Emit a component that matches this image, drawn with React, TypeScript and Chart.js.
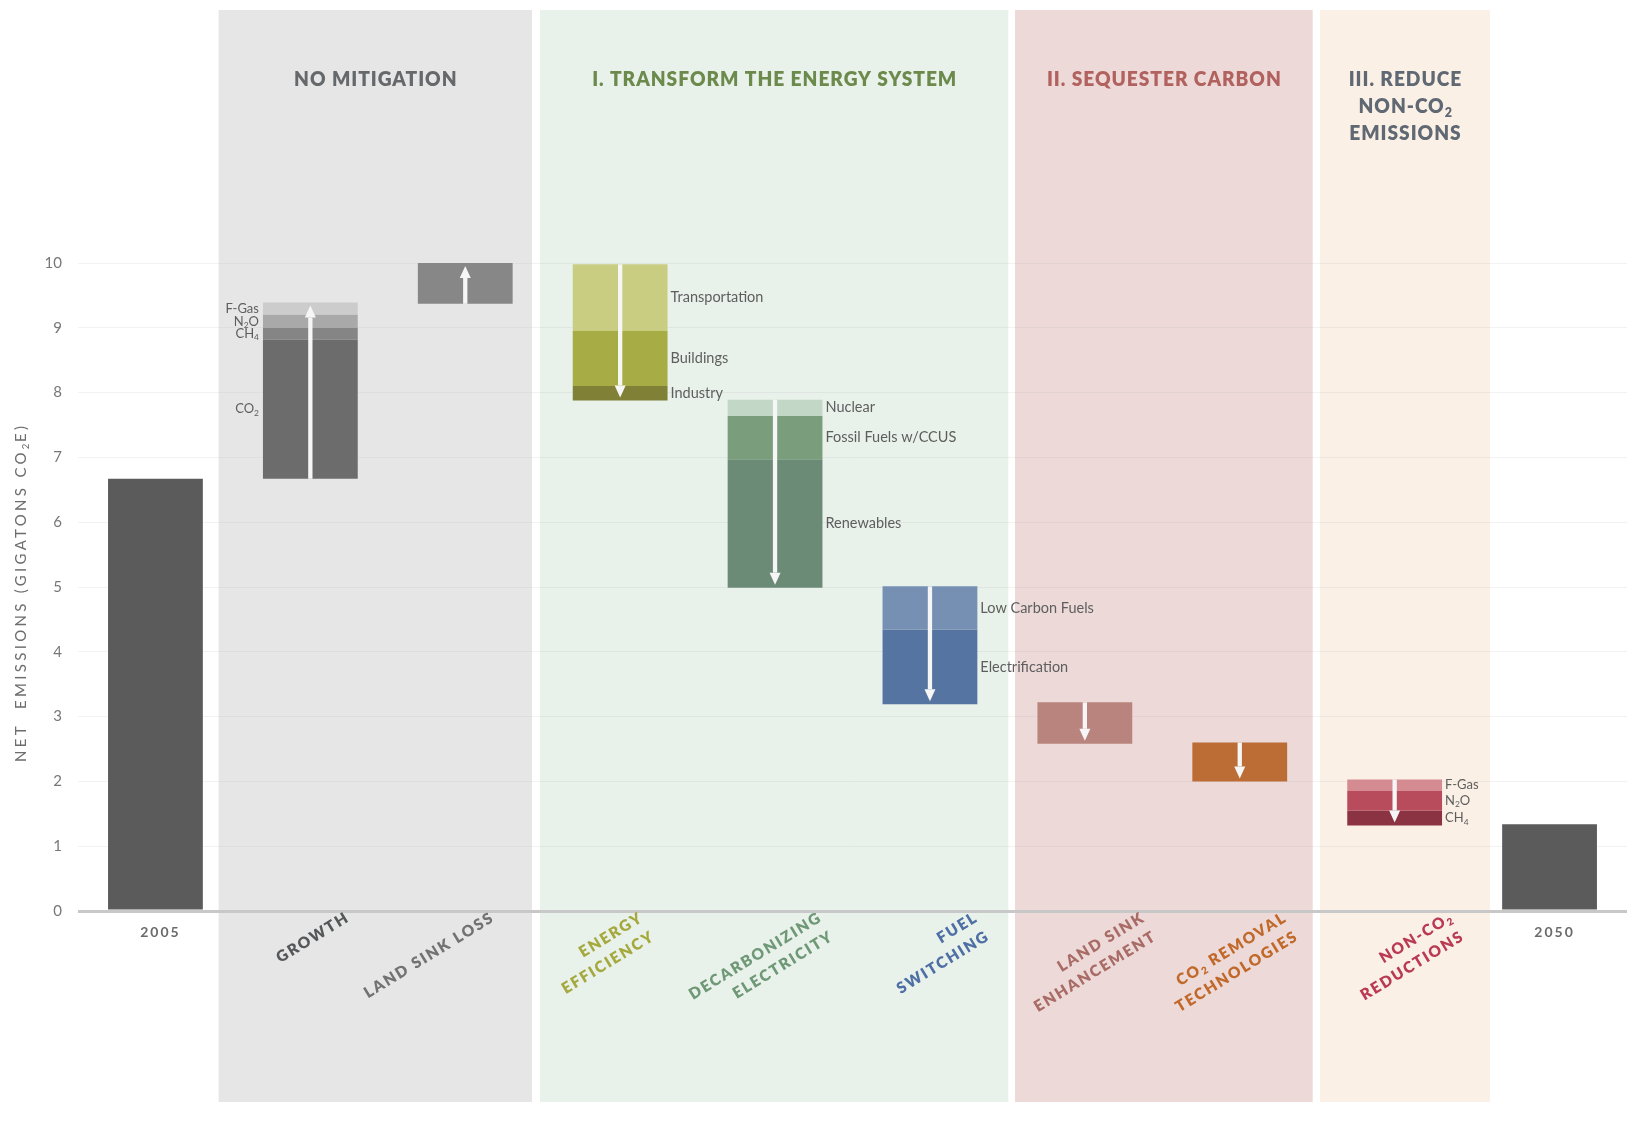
import React, { useEffect, useRef } from 'react';
import { Chart, registerables } from 'chart.js';

Chart.register(...registerables);

// ---------------- DATA ----------------
const categories = [
  '2005', 'GROWTH', 'LAND SINK LOSS', 'ENERGY EFFICIENCY', 'DECARBONIZING ELECTRICITY',
  'FUEL SWITCHING', 'LAND SINK ENHANCEMENT', 'CO2 REMOVAL TECHNOLOGIES', 'NON-CO2 REDUCTIONS', '2050',
];
const yTicks = [0, 1, 2, 3, 4, 5, 6, 7, 8, 9, 10];

const emissions2005 = 6.67;
const emissions2050 = 1.34;

const growthLevels = [6.67, 8.82, 9.0, 9.2, 9.39];
const growthLabels = ['CO_2', 'CH_4', 'N_2O', 'F-Gas'];
const landSinkLossLevels = [9.37, 10.0];
const efficiencyLevels = [9.98, 8.95, 8.1, 7.88];
const efficiencyLabels = ['Transportation', 'Buildings', 'Industry'];
const electricityLevels = [7.89, 7.64, 6.97, 4.99];
const electricityLabels = ['Nuclear', 'Fossil Fuels w/CCUS', 'Renewables'];
const fuelLevels = [5.01, 4.34, 3.19];
const fuelLabels = ['Low Carbon Fuels', 'Electrification'];
const landSinkEnhLevels = [3.22, 2.58];
const removalLevels = [2.6, 2.0];
const nonCo2Levels = [2.03, 1.85, 1.55, 1.32];
const nonCo2Labels = ['F-Gas', 'N_2O', 'CH_4'];

const groupTitles = [['NO MITIGATION'], ['I. TRANSFORM THE ENERGY SYSTEM'], ['II. SEQUESTER CARBON'], ['III. REDUCE', 'NON-CO_2', 'EMISSIONS']];

const xLabelLines = [
  [], ['GROWTH'], ['LAND SINK LOSS'], ['ENERGY', 'EFFICIENCY'], ['DECARBONIZING', 'ELECTRICITY'],
  ['FUEL', 'SWITCHING'], ['LAND SINK', 'ENHANCEMENT'], ['CO_2 REMOVAL', 'TECHNOLOGIES'], ['NON-CO_2', 'REDUCTIONS'], [],
];

// ---------------- STYLE ----------------
const FONT = 'Lato, "Open Sans", sans-serif';
const totalColor = '#5a5b5a';
const growthColors = ['#6b6c6b', '#858585', '#a9a9a9', '#cccccc'];
const landSinkLossColors = ['#878787'];
const efficiencyColors = ['#c8cd82', '#a8ac44', '#808037'];
const electricityColors = ['#c3d7c7', '#7a9e7c', '#6c8b77'];
const fuelColors = ['#7690b4', '#5574a1'];
const landSinkEnhColors = ['#b8847d'];
const removalColors = ['#bc6c35'];
const nonCo2Colors = ['#d58b92', '#b84b5c', '#8b3343'];

const panelColors = ['#e6e6e6', '#e8f1ea', '#ecd9d8', '#fbf0e5'];
const panelTitleColors = ['#65696c', '#6c8a4b', '#b1625e', '#5f6873'];
const panelEdges = [[0.408, 2.431], [2.483, 5.506], [5.549, 7.471], [7.518, 8.615]];
const xLabelColors = ['#6b6b6b', '#555759', '#727272', '#a5a93d', '#6f9877', '#4e6fa5', '#a86b66', '#c0692a', '#b93a52', '#6b6b6b'];
const xLabelAnchorDx = [0, 36, 26, 20, 44, 45, 57, 44, 55, 0];

interface StepGroup { cat: number; levels: number[]; colors: string[]; labels: string[]; side: 'left' | 'right'; labelSize: number; }
const stepGroups: StepGroup[] = [
  { cat: 1, levels: growthLevels, colors: growthColors, labels: growthLabels, side: 'left', labelSize: 13 },
  { cat: 2, levels: landSinkLossLevels, colors: landSinkLossColors, labels: [], side: 'right', labelSize: 14.5 },
  { cat: 3, levels: efficiencyLevels, colors: efficiencyColors, labels: efficiencyLabels, side: 'right', labelSize: 14.5 },
  { cat: 4, levels: electricityLevels, colors: electricityColors, labels: electricityLabels, side: 'right', labelSize: 14.5 },
  { cat: 5, levels: fuelLevels, colors: fuelColors, labels: fuelLabels, side: 'right', labelSize: 14.5 },
  { cat: 6, levels: landSinkEnhLevels, colors: landSinkEnhColors, labels: [], side: 'right', labelSize: 14.5 },
  { cat: 7, levels: removalLevels, colors: removalColors, labels: [], side: 'right', labelSize: 14.5 },
  { cat: 8, levels: nonCo2Levels, colors: nonCo2Colors, labels: nonCo2Labels, side: 'right', labelSize: 13 },
];

// ---------------- RICH TEXT ----------------
type Run = { t: string; sub: boolean };
function parseRich(s: string): Run[] {
  const runs: Run[] = [];
  let buf = '';
  for (let i = 0; i < s.length; i++) {
    if (s[i] === '_' && i + 1 < s.length) {
      if (buf) runs.push({ t: buf, sub: false });
      buf = '';
      runs.push({ t: s[i + 1], sub: true });
      i++;
    } else buf += s[i];
  }
  if (buf) runs.push({ t: buf, sub: false });
  return runs;
}
interface TS { size: number; weight?: string; color: string; spacing?: number }
function setFont(ctx: CanvasRenderingContext2D, st: TS, sub: boolean) {
  ctx.font = `${st.weight || 'normal'} ${sub ? st.size * 0.65 : st.size}px ${FONT}`;
  (ctx as any).letterSpacing = `${sub ? (st.spacing || 0) * 0.5 : st.spacing || 0}px`;
}
function richWidth(ctx: CanvasRenderingContext2D, s: string, st: TS) {
  let w = 0;
  for (const r of parseRich(s)) {
    setFont(ctx, st, r.sub);
    w += ctx.measureText(r.t).width;
  }
  return w - (st.spacing || 0);
}
function drawRich(ctx: CanvasRenderingContext2D, s: string, x: number, y: number, st: TS, align: 'left' | 'right' | 'center') {
  const w = richWidth(ctx, s, st);
  let cx = align === 'left' ? x : align === 'right' ? x - w : x - w / 2;
  ctx.fillStyle = st.color;
  ctx.textAlign = 'left';
  ctx.textBaseline = 'middle';
  for (const r of parseRich(s)) {
    setFont(ctx, st, r.sub);
    ctx.fillText(r.t, cx, r.sub ? y + st.size * 0.3 : y);
    cx += ctx.measureText(r.t).width;
  }
  (ctx as any).letterSpacing = '0px';
}

function drawArrow(ctx: CanvasRenderingContext2D, x: number, yFrom: number, yTo: number) {
  const dir = yTo > yFrom ? 1 : -1;
  const headH = 12, headW = 11, shaft = 4.3;
  const shaftEnd = yTo - dir * headH;
  ctx.fillStyle = '#f6f6f6';
  ctx.fillRect(x - shaft / 2, Math.min(yFrom, shaftEnd), shaft, Math.abs(shaftEnd - yFrom));
  ctx.beginPath();
  ctx.moveTo(x - headW / 2, shaftEnd);
  ctx.lineTo(x + headW / 2, shaftEnd);
  ctx.lineTo(x, yTo);
  ctx.closePath();
  ctx.fill();
}

const headingStyle = (color: string): TS => ({ size: 20, weight: '800', color, spacing: 1 });

const decorPlugin = {
  id: 'decor',
  beforeDraw(chart: any) {
    const ctx: CanvasRenderingContext2D = chart.ctx;
    const xs = chart.scales.x;
    const catW = xs.getPixelForValue(1) - xs.getPixelForValue(0);
    const px = (v: number) => xs.getPixelForValue(0) + v * catW;
    ctx.save();
    // condense headings so that "NO MITIGATION" is ~162px wide, as in the original
    const sx = 162.5 / richWidth(ctx, groupTitles[0][0], headingStyle('#000'));
    panelEdges.forEach(([a, b], i) => {
      const l = px(a), r = px(b);
      ctx.fillStyle = panelColors[i];
      ctx.fillRect(l, 10, r - l, 1092);
      const cx = (l + r) / 2;
      groupTitles[i].forEach((line, k) => {
        ctx.save();
        ctx.translate(cx, 80 + k * 27);
        ctx.scale(sx, 1);
        drawRich(ctx, line, 0, 0, headingStyle(panelTitleColors[i]), 'center');
        ctx.restore();
      });
    });
    ctx.restore();
  },
  afterDatasetsDraw(chart: any) {
    const ctx: CanvasRenderingContext2D = chart.ctx;
    const xs = chart.scales.x;
    const ys = chart.scales.y;
    const catW = xs.getPixelForValue(1) - xs.getPixelForValue(0);
    const barW = catW * 0.612;
    ctx.save();
    // arrows & segment labels
    stepGroups.forEach((g) => {
      const cx = xs.getPixelForValue(g.cat);
      const first = g.levels[0];
      const last = g.levels[g.levels.length - 1];
      const yFrom = ys.getPixelForValue(first);
      const yEnd = ys.getPixelForValue(last);
      const inset = yEnd > yFrom ? -3 : 3;
      drawArrow(ctx, cx, yFrom, yEnd + inset);
      g.labels.forEach((lab, k) => {
        const mid = (g.levels[k] + g.levels[k + 1]) / 2;
        const y = ys.getPixelForValue(mid);
        const st = { size: g.labelSize, color: '#5e5e5e' };
        if (g.side === 'left') drawRich(ctx, lab, cx - barW / 2 - 4, y, st, 'right');
        else drawRich(ctx, lab, cx + barW / 2 + 3, y, st, 'left');
      });
    });
    // x labels
    const ang = (31.5 * Math.PI) / 180;
    categories.forEach((c, i) => {
      const cx = xs.getPixelForValue(i);
      const lines = xLabelLines[i];
      if (!lines.length) {
        drawRich(ctx, c, cx + 4, 932, { size: 14, weight: 'bold', color: xLabelColors[i], spacing: 2 }, 'center');
        return;
      }
      ctx.save();
      ctx.translate(cx + xLabelAnchorDx[i], 917);
      ctx.rotate(-ang);
      lines.forEach((ln, k) => {
        drawRich(ctx, ln, 0, k * 22, { size: 15.5, weight: '800', color: xLabelColors[i], spacing: 1.8 }, 'right');
      });
      ctx.restore();
    });
    // y title
    ctx.save();
    ctx.translate(21, 594);
    ctx.rotate(-Math.PI / 2);
    drawRich(ctx, 'NET  EMISSIONS (GIGATONS CO_2E)', 0, 0, { size: 15, color: '#6d6d6d', spacing: 3.3 }, 'center');
    ctx.restore();
    ctx.restore();
  },
};

export default function App() {
  const ref = useRef<HTMLCanvasElement | null>(null);
  useEffect(() => {
    if (!ref.current) return;
    const datasets: any[] = [];
    const common = { grouped: false, barPercentage: 0.612, categoryPercentage: 1, borderWidth: 0 };
    datasets.push({
      ...common,
      label: 'Net emissions',
      data: categories.map((_, i) => (i === 0 ? [0, emissions2005] : i === categories.length - 1 ? [0, emissions2050] : null)),
      backgroundColor: totalColor,
    });
    stepGroups.forEach((g) => {
      for (let k = 0; k < g.levels.length - 1; k++) {
        const a = g.levels[k];
        const b = g.levels[k + 1];
        datasets.push({
          ...common,
          label: `${categories[g.cat]} ${g.labels[k] || ''}`,
          data: categories.map((_, i) => (i === g.cat ? [Math.min(a, b), Math.max(a, b)] : null)),
          backgroundColor: g.colors[k],
        });
      }
    });
    const chart = new Chart(ref.current, {
      type: 'bar',
      data: { labels: categories, datasets },
      options: {
        responsive: false,
        animation: false,
        layout: { padding: { top: 263, right: 6, bottom: 212, left: 0 } },
        plugins: { legend: { display: false }, tooltip: { enabled: false } },
        scales: {
          x: { display: false, stacked: true },
          y: {
            min: 0,
            max: 10,
            afterFit: (s: any) => { s.width = 78; },
            afterBuildTicks: (s: any) => { s.ticks = yTicks.map((v) => ({ value: v })); },
            ticks: { color: '#777777', font: { family: FONT, size: 15 }, padding: 16 },
            grid: {
              drawTicks: false,
              color: (c: any) => (c.tick && c.tick.value === 0 ? '#c8c8c8' : 'rgba(190,190,190,0.2)'),
              lineWidth: (c: any) => (c.tick && c.tick.value === 0 ? 3 : 1),
            },
            border: { display: false },
          },
        },
      },
      plugins: [decorPlugin],
    });
    return () => chart.destroy();
  }, []);
  return (
    <div style={{ position: 'absolute', left: 0, top: 0, width: 1633, height: 1123, background: '#ffffff' }}>
      <canvas ref={ref} width={1633} height={1123} style={{ display: 'block' }} />
    </div>
  );
}
